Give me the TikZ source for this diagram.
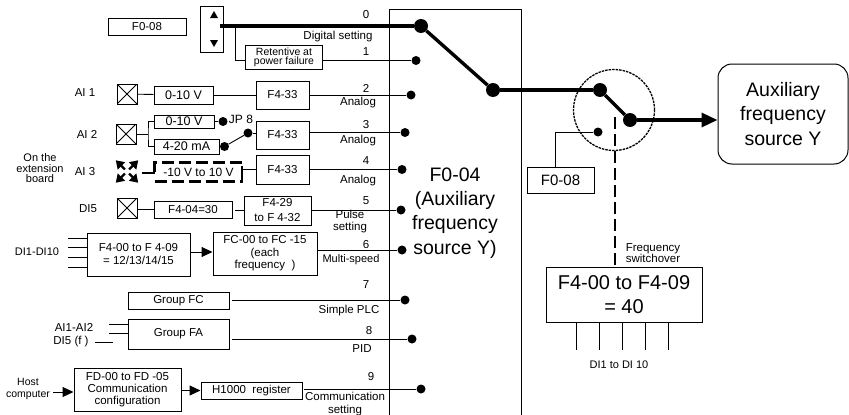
\documentclass[tikz,border=0pt]{standalone}
\usepackage{fontspec}
\setmainfont{Liberation Sans}
\usetikzlibrary{arrows.meta, positioning}

\begin{document}
\begin{tikzpicture}[
    x=1pt, y=-1pt,
    box/.style={rectangle, draw=black, line width=1pt, inner sep=0pt, align=center, font=\fontsize{11.5}{12}\selectfont},
    bigbox/.style={box, font=\fontsize{20}{24}\selectfont},
    txt/.style={inner sep=0pt, align=center, font=\fontsize{11.5}{12}\selectfont},
    bigtxt/.style={inner sep=0pt, align=center, font=\fontsize{19.5}{24.3}\selectfont},
    dot/.style={circle, fill=black, inner sep=0pt, minimum size=9pt},
    bigdot/.style={circle, fill=black, inner sep=0pt, minimum size=14pt},
    xbox/.style={rectangle, draw=black, line width=1pt, inner sep=0pt, minimum size=20pt, path picture={
        \draw (path picture bounding box.north west) -- (path picture bounding box.south east);
        \draw (path picture bounding box.north east) -- (path picture bounding box.south west);}},
    wire/.style={line width=0.9pt},
    mainwire/.style={line width=3.4pt},
    dashwire/.style={line width=2.4pt, dash pattern=on 12pt off 5pt},
    arrowline/.style={-{Triangle[length=11pt, width=10pt]}, line width=1pt}
]
    \useasboundingbox (0,0) rectangle (849,415);

    % selector box, open at the bottom
    \draw[line width=1pt] (389,415) |- (521.5,9) -- (521.5,415);
    \node[bigtxt] (maintext) at (455,213) {F0-04\\(Auxiliary\\frequency\\source Y)};

    % digital setting
    \node[box, minimum width=78pt, minimum height=17pt] (fzero) at (147,26.5) {F0-08};
    \node[box, minimum width=23pt, minimum height=46pt] (updown) at (211.5,29) {};
    \fill (214,11) -- (218,18) -- (210,18) -- cycle;
    \fill (214,47) -- (218,40) -- (210,40) -- cycle;
    \coordinate (updownout) at (220,26);
    \coordinate (branch) at (235,26);
    \node[bigdot] (sel0) at (421,26) {};
    \node[dot] (sel1) at (416,60.5) {};
    \node[box, minimum width=77pt, minimum height=24pt, font=\fontsize{10.5}{9}\selectfont] (retain) at (284,57) {Retentive at\\power failure};
    \node[txt] (n0) at (366,15) {0};
    \node[txt] (t0) at (338,37) {Digital setting};
    \node[txt] (n1) at (366,52) {1};
    \draw[mainwire] (updownout) -- (sel0);
    \draw[wire] (branch) |- (retain.west |- sel1);
    \draw[wire] (retain.east |- sel1) -- (sel1);

    % analog inputs
    \node[txt] (ai1) at (85,93) {AI 1};
    \node[xbox] (x1) at (127,94) {};
    \node[box, minimum width=59pt, minimum height=18pt, font=\fontsize{12.5}{12}\selectfont] (v1) at (183.5,95) {0-10 V};
    \node[box, minimum width=53pt, minimum height=28pt] (f1) at (282.5,95) {F4-33};
    \node[dot] (sel2) at (411,95) {};
    \node[txt] (n2) at (366,88) {2};
    \node[txt] (t2) at (358,103) {Analog};
    \draw[wire] (x1) -- (v1);
    \draw[wire] (v1) -- (f1);
    \draw[wire] (f1) -- (sel2);

    \node[txt] (ai2) at (87,134) {AI 2};
    \node[xbox] (x2) at (126,134) {};
    \node[box, minimum width=60pt, minimum height=13pt, font=\fontsize{12.5}{12}\selectfont] (v2) at (184,121.5) {0-10 V};
    \node[box, minimum width=65pt, minimum height=15pt, font=\fontsize{12.5}{12}\selectfont] (ma2) at (186.5,146.5) {4-20 mA};
    \coordinate (fork) at (148,134);
    \node[dot] (jpa) at (223,121.5) {};
    \node[dot] (jpb) at (224.5,146.5) {};
    \node[dot] (jpc) at (248,133) {};
    \node[txt, font=\fontsize{12}{12}\selectfont] (jp) at (241,119) {JP 8};
    \node[box, minimum width=53pt, minimum height=28pt] (f2) at (282.5,135) {F4-33};
    \node[dot] (sel3) at (405,132.5) {};
    \node[txt] (n3) at (366,125) {3};
    \node[txt] (t3) at (358,141) {Analog};
    \draw[wire] (x2) -- (fork);
    \draw[wire] (v2.west) -| (fork) |- (ma2.west);
    \draw[wire] (v2) -- (jpa);
    \draw[wire] (ma2) -- (jpb);
    \draw[wire] (jpb) -- (jpc);
    \draw[wire] (jpc) -- (f2.west |- jpc);
    \draw[wire] (f2.east |- sel3) -- (sel3);

    \node[txt, font=\fontsize{11}{10.5}\selectfont] (ext) at (40,168.5) {On the\\extension\\board};
    \node[txt] (ai3) at (85,172) {AI 3};
    \node[inner sep=0pt, minimum size=22pt] (x3) at (127,171.5) {};
    \foreach \corner in {north west, north east, south west, south east}
        \draw[-{Triangle[length=8pt, width=10pt]}, line width=2.2pt, shorten <=3pt] (x3.center) -- (x3.\corner);
    \node[box, draw=none, minimum width=87pt, minimum height=18pt, font=\fontsize{12}{12}\selectfont] (v3) at (198.5,172) {-10 V to 10 V};
    \draw[dashwire] (v3.west) -- (v3.north west) -- (v3.north east);
    \draw[dashwire] (v3.north west |- v3.south) -- (v3.south east);
    \node[box, minimum width=53pt, minimum height=29pt] (f3) at (282.5,169.5) {F4-33};
    \node[dot] (sel4) at (402,169.5) {};
    \node[txt] (n4) at (366,161) {4};
    \node[txt] (t4) at (358,181) {Analog};
    \coordinate (barin) at (142,173);
    \draw[line width=2pt] (barin) -- (v3.west |- barin);
    \draw[line width=2pt] (242,166) -- (242,180);
    \draw[wire] (242,169.5) -- (f3);
    \draw[wire] (f3) -- (sel4);

    % pulse input
    \node[txt] (di5) at (88,209) {DI5};
    \node[xbox] (x5) at (127,208) {};
    \node[box, minimum width=78pt, minimum height=17pt] (f5) at (193,209.5) {F4-04=30};
    \node[box, minimum width=67pt, minimum height=29pt, font=\fontsize{11.5}{15}\selectfont] (g5) at (277.5,210.5) {F4-29\\to F 4-32};
    \node[dot] (sel5) at (401,210) {};
    \node[txt] (n5) at (366,201) {5};
    \node[txt] (t5) at (350,222) {Pulse\\setting};
    \draw[wire] (x5.east |- f5) -- (f5);
    \draw[wire] (235,210) -- (g5.west |- sel5);
    \draw[wire] (g5.east |- sel5) -- (sel5);

    % multi-speed
    \node[txt, font=\fontsize{11}{12}\selectfont] (dimulti) at (37,252) {DI1-DI10};
    \node[box, minimum width=103pt, minimum height=43pt, font=\fontsize{11.5}{13}\selectfont] (fmulti) at (138.5,254.5) {F4-00 to F 4-09\\= 12/13/14/15};
    \node[box, minimum width=104pt, minimum height=43pt, font=\fontsize{11.5}{12.5}\selectfont] (fc) at (265,253.5) {FC-00 to FC -15\\(each\\frequency\ \ )};
    \node[dot] (sel6) at (402,250) {};
    \node[txt] (n6) at (366,245) {6};
    \node[txt, font=\fontsize{11}{12}\selectfont] (t6) at (351,260) {Multi-speed};
    \foreach \yy in {238,247,257,267}
        \draw[wire] (68,\yy) -- (fmulti.west |- 0,\yy);
    \draw[arrowline] (fmulti.east |- 0,252) -- (fc.west |- 0,252);
    \draw[wire] (fc.east |- sel6) -- (sel6);

    % simple PLC
    \node[txt] (n7) at (366,285) {7};
    \node[box, minimum width=101pt, minimum height=17pt] (gfc) at (178.5,300.5) {Group FC};
    \node[dot] (sel7) at (405,300) {};
    \node[txt] (t7) at (349,311) {Simple PLC};
    \coordinate (wire7) at (232,300);
    \draw[wire] (wire7) -- (sel7);

    % PID
    \node[txt] (aifa) at (74,327) {AI1-AI2};
    \node[txt] (difa) at (71,342) {DI5 (f )};
    \node[box, minimum width=101pt, minimum height=30pt] (gfa) at (178.5,334) {Group FA};
    \node[dot] (sel8) at (412,339) {};
    \node[txt] (n8) at (369,331) {8};
    \node[txt] (t8) at (362,349) {PID};
    \coordinate (wire8) at (232,339);
    \coordinate (difaout) at (113,342);
    \draw[wire] (109,324) -- (gfa.west |- 0,324);
    \draw[wire] (109,333) -- (gfa.west |- 0,333);
    \draw[wire] (95,342) -- (difaout);
    \draw[wire] (wire8) -- (sel8);

    % communication
    \node[txt, font=\fontsize{10.5}{12}\selectfont] (host) at (28,389) {Host\\computer};
    \node[box, minimum width=107pt, minimum height=43pt] (fd) at (127.5,389.5) {FD-00 to FD -05\\Communication\\configuration};
    \node[box, minimum width=101pt, minimum height=17pt] (reg) at (251.5,390.5) {H1000 \ register};
    \node[dot] (sel9) at (421,389) {};
    \node[txt] (n9) at (371,377) {9};
    \node[txt, font=\fontsize{11.5}{13}\selectfont] (t9) at (345,404.5) {Communication\\setting};
    \coordinate (hostout) at (53,392);
    \draw[arrowline] (hostout) -- (fd.west |- hostout);
    \draw[arrowline] (fd.east |- reg) -- (reg);
    \coordinate (wire9) at (304,389);
    \draw[wire] (wire9) -- (sel9);

    % output side
    \node[bigdot] (swa) at (493,90) {};
    \node[bigdot] (swb) at (600,90) {};
    \node[bigdot] (swc) at (630,120) {};
    \node[dot] (swd) at (598,132) {};
    \node[circle, draw=black, dash pattern=on 2.5pt off 1pt, line width=1.3pt, minimum size=81pt, inner sep=0pt] (swcircle) at (614,110) {};
    \node[rectangle, draw=black, line width=1pt, rounded corners=14pt, minimum width=130pt, minimum height=100pt, inner sep=0pt, align=center, font=\fontsize{19.5}{24.5}\selectfont] (output) at (783,114) {Auxiliary\\frequency\\source Y};
    \node[box, minimum width=67pt, minimum height=26pt, font=\fontsize{15}{16}\selectfont] (fzerob) at (560.5,180) {F0-08};
    \node[bigbox, minimum width=156pt, minimum height=55pt] (fsw) at (624,294.5) {F4-00 to F4-09\\= 40};
    \node[txt, font=\fontsize{11.5}{10}\selectfont] (tsw) at (653,253) {Frequency\\switchover};
    \node[txt, font=\fontsize{11}{12}\selectfont] (disw) at (619,365) {DI1 to DI 10};
    \coordinate (dashtop) at (615,117);
    \draw[mainwire] (sel0) -- (swa);
    \draw[mainwire] (swa) -- (swb);
    \draw[mainwire] (swb) -- (swc);
    \draw[mainwire, -{Triangle[length=16pt, width=14pt]}] (swc) -- (output.west |- swc);
    \draw[wire] (swd) -| (fzerob.north -| 555,0);
    \draw[dashwire] (dashtop) -- (fsw.north -| dashtop);
    \foreach \xx in {576,599,622,645,668}
        \draw[wire] (fsw.south -| \xx,0) -- (\xx,350);
\end{tikzpicture}
\end{document}
